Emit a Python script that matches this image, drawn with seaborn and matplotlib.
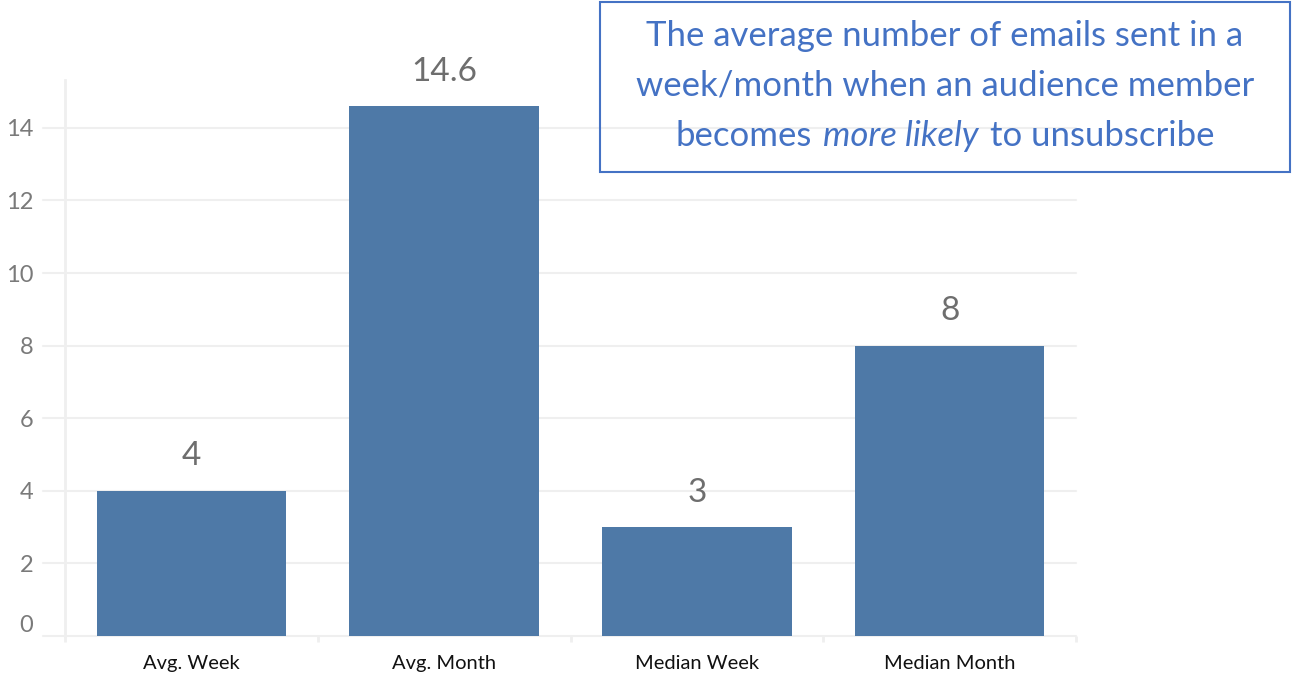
import matplotlib
matplotlib.use("Agg")
import matplotlib.pyplot as plt
import matplotlib.transforms as mtransforms
import seaborn as sns
import pandas as pd
from matplotlib.patches import Rectangle
from matplotlib.offsetbox import TextArea, HPacker, VPacker, AnnotationBbox

categories = ["Avg. Week", "Avg. Month", "Median Week", "Median Month"]
values = [4, 14.6, 3, 8]
value_labels = ["4", "14.6", "3", "8"]
y_ticks = [0, 2, 4, 6, 8, 10, 12, 14]

sns.set_theme(style="white")
plt.rcParams['font.family'] = ['Lato', 'DejaVu Sans']

BAR = "#4E79A7"
GRID = "#EFEFEF"
BLUE = "#4472C4"

fig = plt.figure(figsize=(12.95, 6.79), dpi=100)
ax = fig.add_axes([65/1295, 1 - 636/679, 1011/1295, 556/679])

df = pd.DataFrame({"category": categories, "value": values})
sns.barplot(data=df, x="category", y="value", color=BAR, saturation=1,
            width=0.75, ax=ax)
for p in ax.patches:
    p.set_edgecolor("none")

ax.set_xlim(-0.5, 3.5)
ax.set_ylim(0, 15.32)
ax.set_yticks(y_ticks)
ax.set_yticklabels([str(t) for t in y_ticks])
ax.set_xlabel("")
ax.set_ylabel("")

for t in y_ticks:
    ax.axhline(t, xmin=-22/1011, xmax=1, color=GRID, lw=1.5, clip_on=False, zorder=0)

for s in ["top", "right", "bottom"]:
    ax.spines[s].set_visible(False)
ax.spines["left"].set_color(GRID)
ax.spines["left"].set_linewidth(2)

ax.tick_params(axis="y", length=0, labelsize=17, labelcolor="#7A7A7A", pad=23)
ax.tick_params(axis="x", length=0, labelsize=14.5, labelcolor="#111111", pad=14)
ax.set_xticks([-0.5, 0.5, 1.5, 2.5, 3.5], minor=True)
ax.tick_params(axis="x", which="minor", length=4, width=2, color=GRID, bottom=True)

# lift the "0" label slightly as in the reference
zero_lbl = ax.get_yticklabels()[0]
zero_lbl.set_transform(zero_lbl.get_transform() +
                       mtransforms.ScaledTranslation(0, 12/100, fig.dpi_scale_trans))

ax.bar_label(ax.containers[0], labels=value_labels, padding=14,
             fontsize=24, color="#6E6E6E")

# annotation box
fig.patches.append(Rectangle((600/1295, 1 - 172/679), 690/1295, 170/679,
                             transform=fig.transFigure, fill=False,
                             edgecolor=BLUE, linewidth=1.5))
fs = 25
tp = dict(fontsize=fs, color=BLUE)
l1 = TextArea("The average number of emails sent in a", textprops=tp)
l2 = TextArea("week/month when an audience member", textprops=tp)
l3 = HPacker(children=[TextArea("becomes", textprops=tp),
                       TextArea("more likely", textprops=dict(tp, style="italic")),
                       TextArea("to unsubscribe", textprops=tp)],
             align="baseline", pad=0, sep=8)
box = VPacker(children=[l1, l2, l3], align="center", pad=0, sep=13)
ab = AnnotationBbox(box, (945/1295, 1 - 86/679), xycoords="figure fraction",
                    frameon=False, box_alignment=(0.5, 0.5))
fig.add_artist(ab)

fig.savefig("out.png", dpi=100)
